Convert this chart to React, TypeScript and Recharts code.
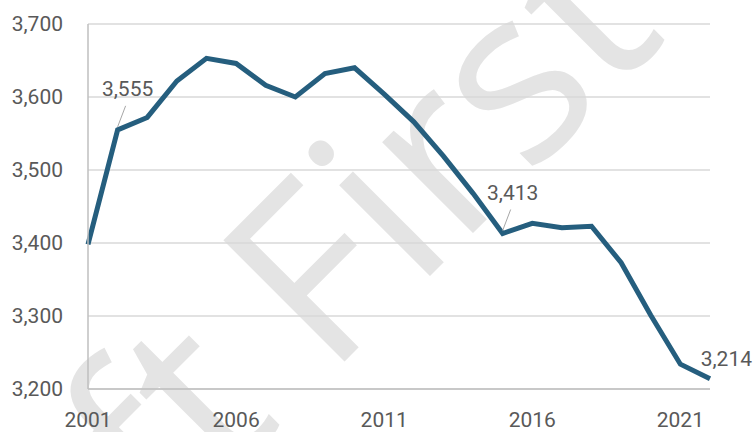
import { LineChart, Line, XAxis, YAxis, CartesianGrid } from 'recharts';

const years = [
  2001, 2002, 2003, 2004, 2005, 2006, 2007, 2008, 2009, 2010, 2011,
  2012, 2013, 2014, 2015, 2016, 2017, 2018, 2019, 2020, 2021, 2022,
];
const values = [
  3398, 3555, 3572, 3622, 3653, 3646, 3616, 3600, 3632, 3640, 3604,
  3566, 3519, 3468, 3413, 3427, 3421, 3423, 3373, 3301, 3234, 3214,
];
const xTicks = [2001, 2006, 2011, 2016, 2021];
const yTicks = [3200, 3300, 3400, 3500, 3600, 3700];
const labelledYears = [2002, 2015, 2022];

const FONT = 'Roboto, sans-serif';
const TEXT = '#595959';
const LINE = '#255e7e';

const chartData = years.map((year, i) => ({ year, value: values[i] }));

const fmt = (v: number) => v.toLocaleString('en-US');

// callout placement for the three labelled points
function PointLabel(props: any) {
  const { x, y, index } = props;
  const year = years[index];
  if (!labelledYears.includes(year)) return null;
  const text = fmt(values[index]);
  if (year === 2022) {
    return (
      <text x={x + 42} y={y - 13} textAnchor="end" fontFamily={FONT} fontSize={21} fill={TEXT}>
        {text}
      </text>
    );
  }
  return (
    <g>
      <line x1={x} y1={y - 3} x2={x + 8} y2={y - 24} stroke="#a6a6a6" strokeWidth={1} />
      <text x={x + 10} y={y - 34} textAnchor="middle" fontFamily={FONT} fontSize={21} fill={TEXT}>
        {text}
      </text>
    </g>
  );
}

function Watermark() {
  const ox = 328;
  const oy = 378;
  return (
    <svg width={753} height={432} style={{ position: 'absolute', left: 0, top: 0 }}>
      <g transform={`rotate(-45, ${ox}, ${oy})`} fontFamily="'Open Sans', sans-serif" fontSize={240} fill="#e4e4e4">
        <text x={ox - 62} y={oy} textAnchor="end">Draft</text>
        <text x={ox} y={oy} textAnchor="start">First</text>
      </g>
    </svg>
  );
}

export default function App() {
  return (
    <div style={{ position: 'absolute', left: 0, top: 0, width: 753, height: 432, background: '#fff', overflow: 'hidden' }}>
      <Watermark />
      <div style={{ position: 'absolute', left: 0, top: 0 }}>
        <LineChart width={753} height={432} data={chartData} margin={{ top: 24, right: 43, left: 0, bottom: 13 }}>
          <CartesianGrid vertical={false} stroke="#d9d9d9" strokeWidth={1.5} />
          <XAxis
            dataKey="year"
            type="number"
            domain={[2001, 2022]}
            ticks={xTicks}
            tickLine={false}
            tickSize={0}
            tickMargin={23}
            height={30}
            axisLine={{ stroke: '#bfbfbf', strokeWidth: 1.5 }}
            tick={{ fontFamily: FONT, fontSize: 21, fill: TEXT }}
            interval={0}
          />
          <YAxis
            domain={[3200, 3700]}
            ticks={yTicks}
            tickLine={false}
            tickSize={0}
            tickMargin={25}
            width={88}
            axisLine={{ stroke: '#bfbfbf', strokeWidth: 1.5 }}
            tick={{ fontFamily: FONT, fontSize: 21, fill: TEXT }}
            tickFormatter={fmt}
            interval={0}
          />
          <Line
            type="linear"
            dataKey="value"
            stroke={LINE}
            strokeWidth={5}
            dot={false}
            activeDot={false}
            label={<PointLabel />}
            isAnimationActive={false}
          />
        </LineChart>
      </div>
    </div>
  );
}
